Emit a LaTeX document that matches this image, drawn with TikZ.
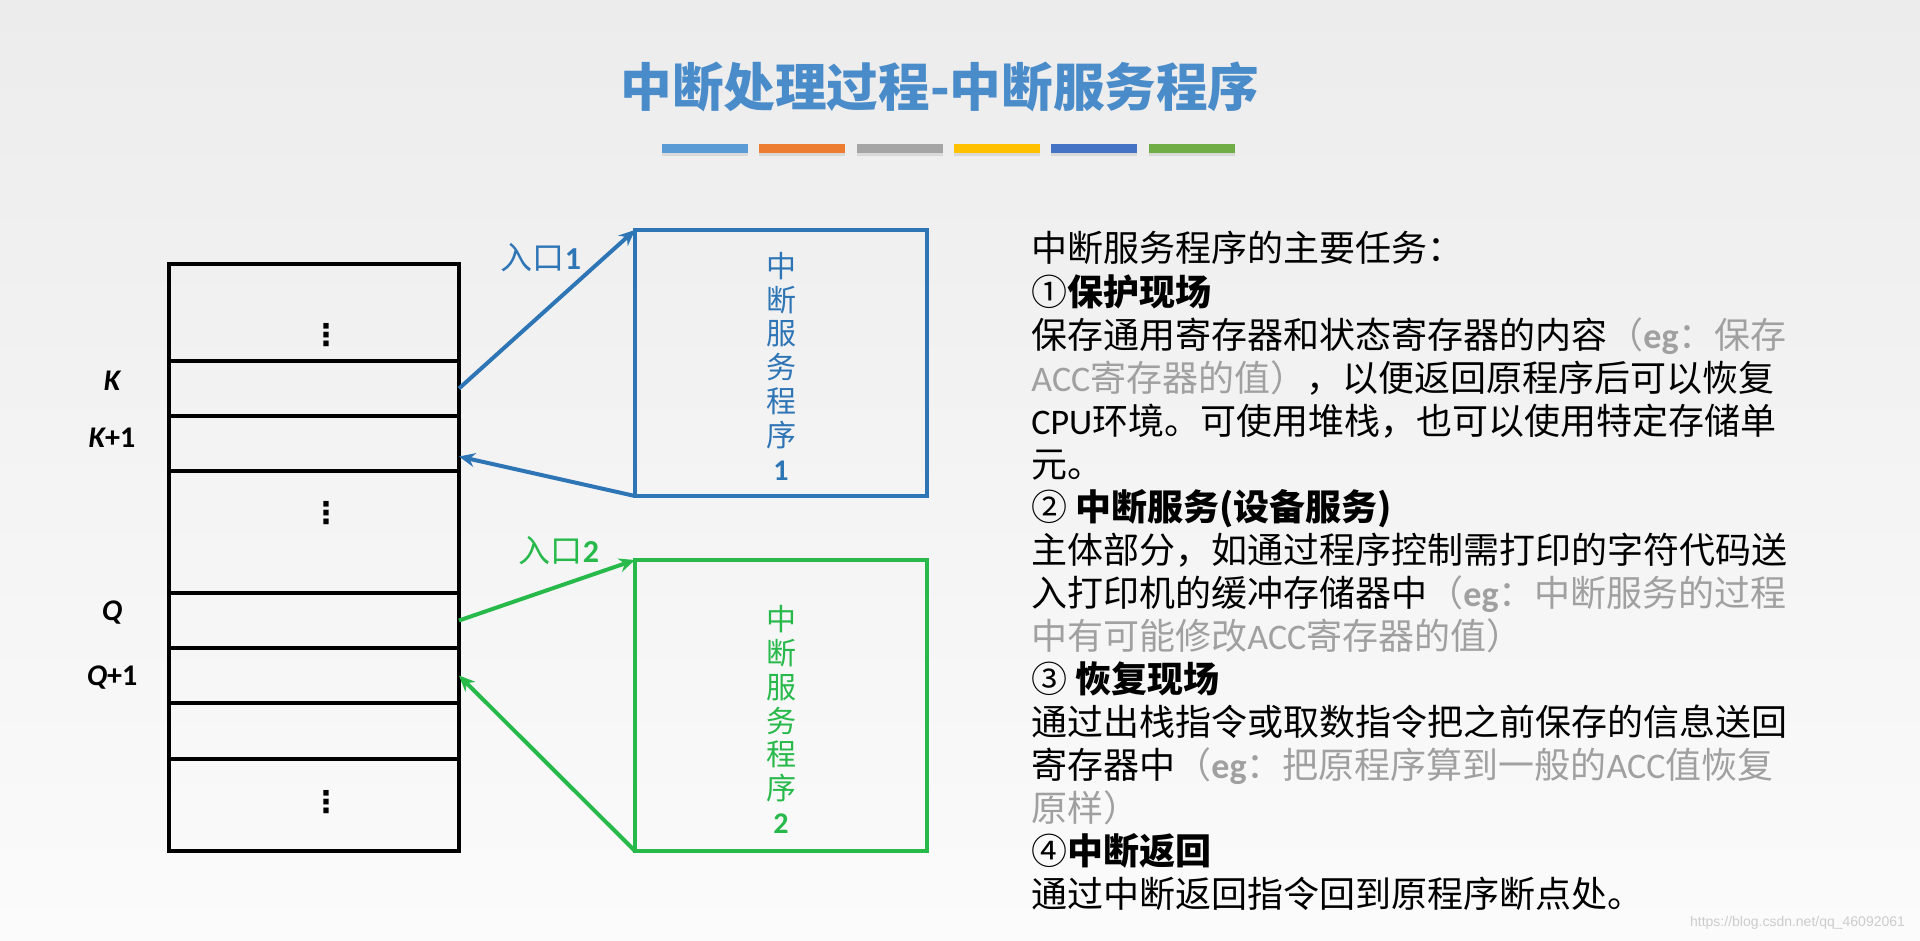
\documentclass[tikz,border=0pt]{standalone}
\usepackage{fontspec}
\setmainfont{Noto Sans CJK SC}
\newfontfamily\latin{Carlito}
\newfontfamily\wmfont{Liberation Sans}
\newfontfamily\symfont{DejaVu Sans}
\usetikzlibrary{arrows.meta,positioning}

\definecolor{titleblue}{RGB}{74,140,201}
\definecolor{isrblue}{RGB}{46,117,182}
\definecolor{isrgreen}{RGB}{40,185,75}
\definecolor{notegray}{RGB}{160,160,160}
\definecolor{barblue}{RGB}{91,155,213}
\definecolor{barorange}{RGB}{237,125,49}
\definecolor{bargray}{RGB}{165,165,165}
\definecolor{bargold}{RGB}{255,192,0}
\definecolor{bardark}{RGB}{68,114,196}
\definecolor{bargreen}{RGB}{112,173,71}

\newcommand\latw[1]{{\latin #1}}
\newcommand\dimtxt[1]{{\color{notegray}#1}}
\newcommand\hdtxt[1]{{\bfseries #1}}

\begin{document}
\begin{tikzpicture}[x=0.5pt, y=-0.5pt, >={Stealth[length=8pt,width=7pt]},
  cell/.style={draw, line width=2.1pt, minimum width=145pt, inner sep=0pt, outer sep=0pt},
  vdot/.style={inner sep=0pt, font=\symfont\bfseries\fontsize{15pt}{18pt}\selectfont},
  idx/.style={font=\latin\bfseries\fontsize{15pt}{18pt}\selectfont},
  isr/.style={draw, line width=2.2pt, minimum width=146pt, inner sep=0pt, outer sep=0pt},
  isrtext/.style={align=center, inner sep=0pt, font=\fontsize{15pt}{16.9pt}\selectfont},
  entry/.style={inner sep=0pt, font=\fontsize{16pt}{18pt}\selectfont},
  body/.style={anchor=base west, inner sep=0pt, font=\fontsize{18pt}{21.5pt}\selectfont},
  link/.style={->, line width=2pt}]
  \useasboundingbox (0,0) rectangle (1920,941);
  \shade[top color={rgb,255:red,236;green,236;blue,236}, bottom color={rgb,255:red,251;green,251;blue,251}] (0,0) rectangle (1920,941);

  % title and colour bars
  \node[font=\bfseries\fontsize{25.8pt}{30pt}\selectfont, text=titleblue] (title) at (940,87) {中断处理过程-中断服务程序};
  \foreach \c [count=\i from 0] in {barblue,barorange,bargray,bargold,bardark,bargreen}{
    \fill[black!15] ({662+97.3*\i},147) rectangle ++(86,9);
    \fill[\c] ({662+97.3*\i},144) rectangle ++(86,9);
  }

  % memory of the main program
  \foreach \n/\t/\b in {r1/264/361, r2/361/416, r3/416/471, r4/471/593, r5/593/648, r6/648/703, r7/703/759, r8/759/851}
    \node[cell, minimum height={(\b-\t)*0.5pt}] (\n) at (314,{(\t+\b)/2}) {};
  \node[vdot] (dots1) at (326,335) {⋮};
  \node[vdot] (dots2) at (326,513) {⋮};
  \node[vdot] (dots3) at (326,802) {⋮};

  \node[idx] (lk) at ([xshift=-28.5pt,yshift=4pt]r2.west) {\itshape K};
  \node[idx] (lk1) at ([xshift=-28.5pt,yshift=3pt]r3.west) {{\itshape K}+1};
  \node[idx] (lq) at ([xshift=-28.5pt,yshift=4pt]r5.west) {\itshape Q};
  \node[idx] (lq1) at ([xshift=-28.5pt,yshift=-1pt]r6.west) {{\itshape Q}+1};

  % service routines
  \node[isr, draw=isrblue, minimum height=133pt] (isr1) at (781,363) {};
  \node[isr, draw=isrgreen, minimum height=145.5pt] (isr2) at (781,705.5) {};
  \node[isrtext, text=isrblue] (name1) at ([yshift=-1.5pt]isr1.center) {中\\断\\服\\务\\程\\序\\\latw{\bfseries 1}};
  \node[isrtext, text=isrgreen] (name2) at ([yshift=-7pt]isr2.center) {中\\断\\服\\务\\程\\序\\\latw{\bfseries 2}};

  \node[entry, text=isrblue] (in1) at (541,258) {入口\latw{\bfseries 1}};
  \node[entry, text=isrgreen] (in2) at (559,551) {入口\latw{\bfseries 2}};

  \draw[link, isrblue] (r2.east) -- (isr1.north west);
  \draw[link, isrblue] (isr1.south west) -- ([yshift=-6.5pt]r3.east);
  \draw[link, isrgreen] (r5.east) -- (isr2.north west);
  \draw[link, isrgreen] (isr2.south west) -- (r6.east);

  % main tasks
  \foreach \txt [count=\i from 0] in {
    {中断服务程序的主要任务：},
    {①\hdtxt{保护现场}},
    {保存通用寄存器和状态寄存器的内容\dimtxt{（\latw{\bfseries eg}：保存}},
    {\dimtxt{\latw{ACC}寄存器的值）}，以便返回原程序后可以恢复},
    {\latw{CPU}环境。可使用堆栈，也可以使用特定存储单},
    {元。},
    {② \hdtxt{中断服务(设备服务)}},
    {主体部分，如通过程序控制需打印的字符代码送},
    {入打印机的缓冲存储器中\dimtxt{（\latw{\bfseries eg}：中断服务的过程}},
    {\dimtxt{中有可能修改\latw{ACC}寄存器的值）}},
    {③ \hdtxt{恢复现场}},
    {通过出栈指令或取数指令把之前保存的信息送回},
    {寄存器中\dimtxt{（\latw{\bfseries eg}：把原程序算到一般的\latw{ACC}值恢复}},
    {\dimtxt{原样）}},
    {④\hdtxt{中断返回}},
    {通过中断返回指令回到原程序断点处。}}
    \node[body] (line\i) at (1031,{262+43*\i}) {\txt};

  \node[anchor=east, font=\wmfont\fontsize{7pt}{8pt}\selectfont, text=black!20] (wm) at (1912,923) {https://blog.csdn.net/qq\_46092061};
\end{tikzpicture}
\end{document}
